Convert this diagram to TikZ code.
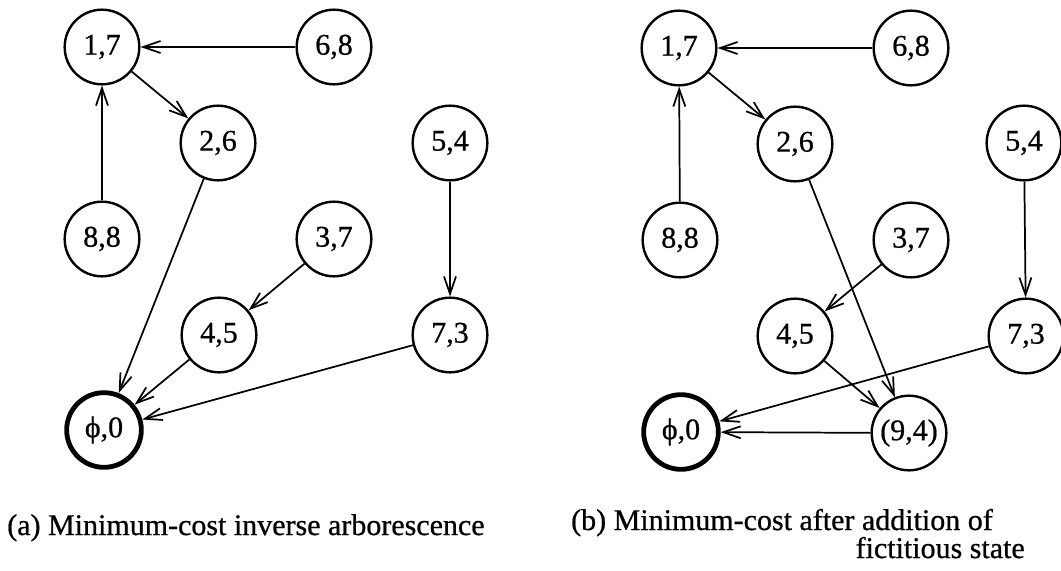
\documentclass[tikz,border=0pt]{standalone}
\usepackage{fontspec}
\setmainfont[FakeBold=0.7]{Liberation Serif}
\usetikzlibrary{arrows.meta}
\begin{document}
\begin{tikzpicture}[x=0.75pt,y=-0.75pt,
  state/.style={circle, draw, line width=1.8pt, minimum size=56pt, inner sep=0pt,
                font=\fontsize{22.5}{27}\selectfont},
  rootstate/.style={state, line width=3.6pt},
  link/.style={line width=1.3pt, -{Straight Barb[length=13pt,width=9pt]}},
  caption/.style={inner sep=0pt, font=\fontsize{22.5}{27}\selectfont}]
\useasboundingbox (0,0) rectangle (1061,571);

% (a) minimum-cost inverse arborescence
\node[state] (a17) at (102,47) {1,7};
\node[state] (a68) at (334,47) {6,8};
\node[state] (a26) at (218,143) {2,6};
\node[state] (a54) at (450,143) {5,4};
\node[state] (a88) at (102,239) {8,8};
\node[state] (a37) at (334,239) {3,7};
\node[state] (a45) at (219,335) {4,5};
\node[state] (a73) at (450,335) {7,3};
\node[rootstate] (a0) at (104,430) {\char"03D5,0};

\draw[link] (a68) -- (a17);
\draw[link] (a17) -- (a26);
\draw[link] (a88) -- (a17);
\draw[link] (a26) -- (a0);
\draw[link] (a54) -- (a73);
\draw[link] (a37) -- (a45);
\draw[link] (a45) -- (a0);
\draw[link] (a73) -- (a0);

\node[caption, anchor=base west] (capa) at (7,535) {(a) Minimum-cost inverse arborescence};

% (b) after adding the fictitious state
\node[state] (b17) at (679,48) {1,7};
\node[state] (b68) at (911,48) {6,8};
\node[state] (b26) at (795,144) {2,6};
\node[state] (b54) at (1024,143) {5,4};
\node[state] (b88) at (680,240) {8,8};
\node[state] (b37) at (911,240) {3,7};
\node[state] (b45) at (795,336) {4,5};
\node[state] (b73) at (1026,336) {7,3};
\node[state] (b94) at (909,433) {(9,4)};
\node[rootstate] (b0) at (681,432) {\char"03D5,0};

\draw[link] (b68) -- (b17);
\draw[link] (b17) -- (b26);
\draw[link] (b88) -- (b17);
\draw[link] (b26) -- (b94);
\draw[link] (b54) -- (b73);
\draw[link] (b37) -- (b45);
\draw[link] (b45) -- (b94);
\draw[link] (b73) -- (b0);
\draw[link] (b94) -- (b0);

\node[caption, anchor=base east] (capb1) at (993,530) {(b) Minimum-cost after addition of};
\node[caption, anchor=base east] (capb2) at (1025,558) {fictitious state};
\end{tikzpicture}
\end{document}
